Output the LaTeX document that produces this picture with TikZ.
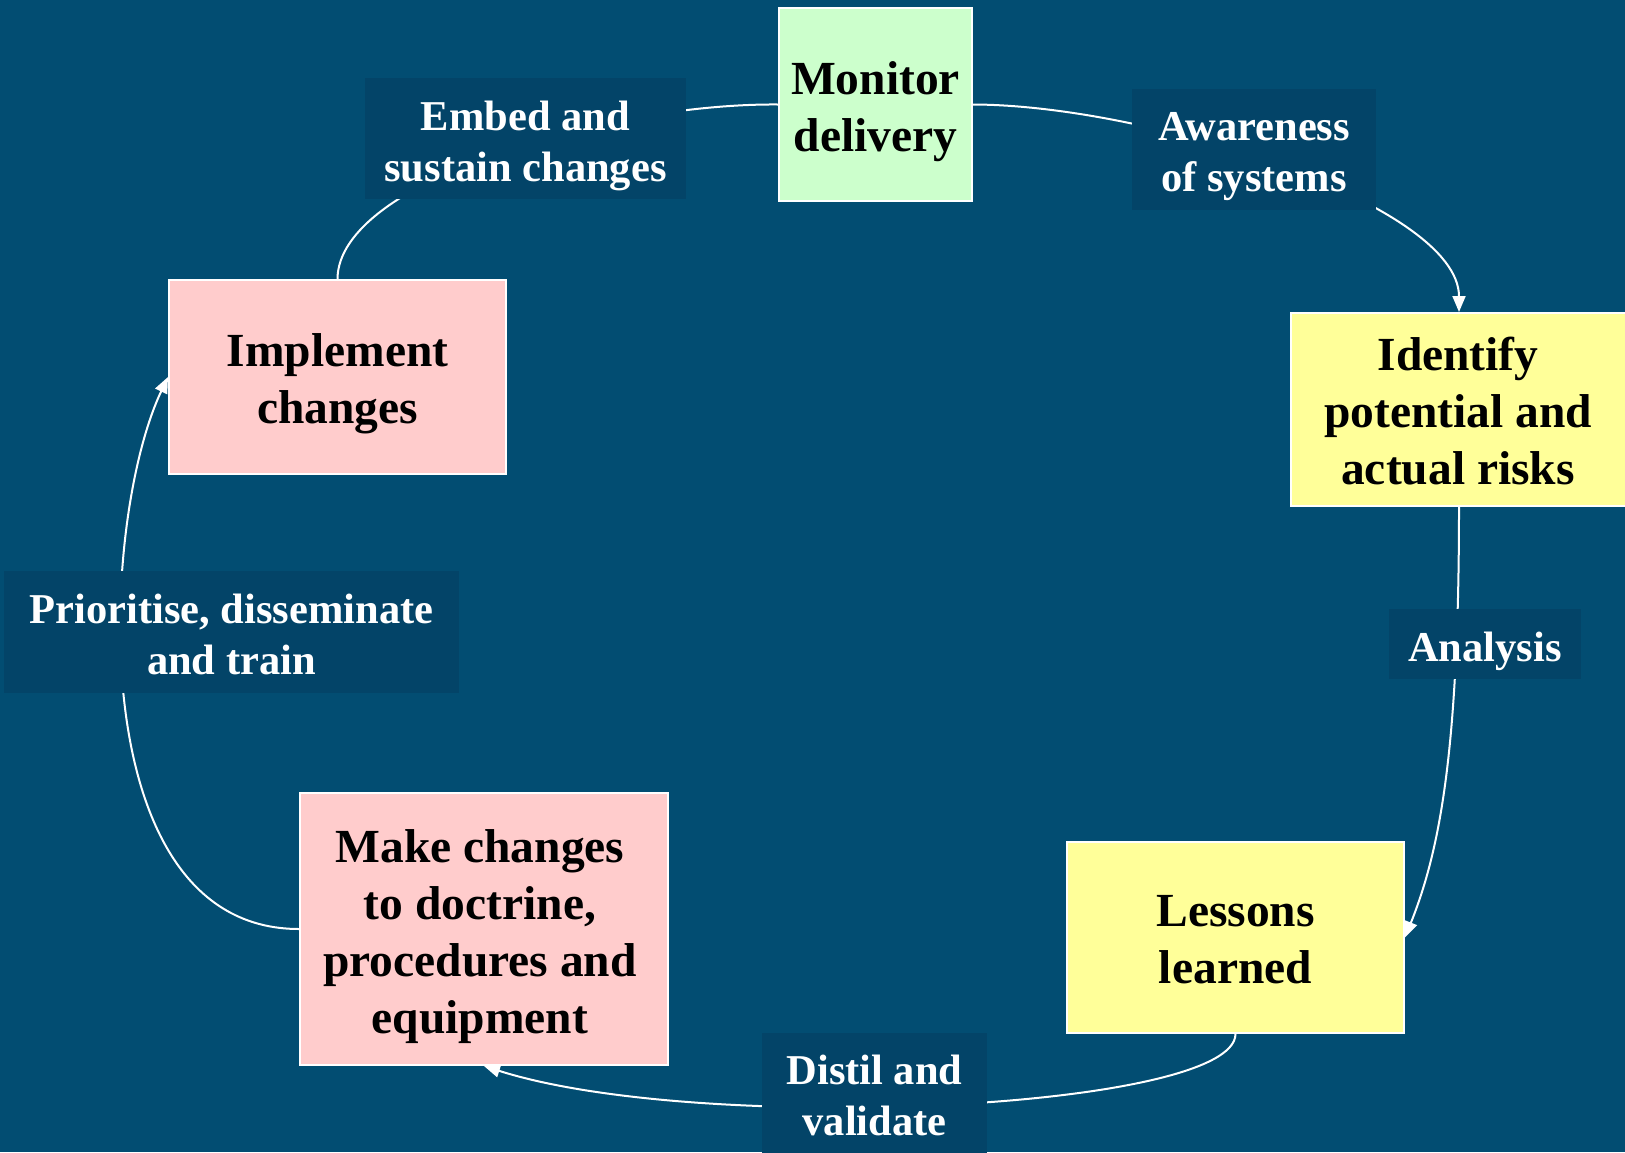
\documentclass[tikz,border=0pt]{standalone}
\usepackage{fontspec}
\setmainfont{Liberation Serif}
\usetikzlibrary{arrows.meta}
\definecolor{bg}{RGB}{2,77,114}
\definecolor{lbl}{RGB}{3,68,104}
\definecolor{boxgreen}{RGB}{204,255,204}
\definecolor{boxyellow}{RGB}{255,255,153}
\definecolor{boxpink}{RGB}{255,204,204}
\begin{document}
\begin{tikzpicture}[x=1pt,y=-1pt,
  stage/.style={draw=white,line width=2pt,inner sep=0pt},
  stagetext/.style={inner sep=0pt,align=center,
    font=\fontsize{47.5}{57}\selectfont\bfseries,text=black},
  lab/.style={fill=lbl,inner sep=0pt},
  labtext/.style={inner sep=0pt,align=center,
    font=\fontsize{42.5}{51}\selectfont\bfseries,text=white},
  conn/.style={draw=white,line width=2pt},
  arr/.style={conn,-{Triangle[length=16pt,width=13pt]}}]
\fill[bg] (0,0) rectangle (1625,1152);
\useasboundingbox (0,0) rectangle (1625,1152);
% stages
\node[stage,fill=boxgreen,minimum width=193pt,minimum height=193pt,
  label={[stagetext,yshift=-7pt]center:{Monitor\\delivery}}] (mon) at (875.5,104.5) {};
\node[stage,fill=boxyellow,minimum width=336pt,minimum height=193pt,
  label={[stagetext,yshift=-1.5pt,xshift=-1pt]center:{Identify\\potential and\\actual risks}}] (ident) at (1459,409.5) {};
\node[stage,fill=boxyellow,minimum width=337pt,minimum height=191pt,
  label={[stagetext,yshift=-2pt]center:{Lessons\\learned}}] (less) at (1235.5,937.5) {};
\node[stage,fill=boxpink,minimum width=368pt,minimum height=272pt,
  label={[stagetext,yshift=-8pt,xshift=-4pt]center:{Make changes\\to doctrine,\\procedures and\\equipment}}] (make) at (484,929) {};
\node[stage,fill=boxpink,minimum width=337pt,minimum height=194pt,
  label={[stagetext,yshift=-7pt]center:{Implement\\changes}}] (impl) at (337.5,377) {};
% connectors
\draw[arr] (mon.east) .. controls (1150,105) and (1459,205) .. (ident.north);
\draw[arr] (ident.south) .. controls (1459,750) and (1440,850) .. (less.east);
\draw[arr] (less.south) .. controls (1235,1110) and (700,1135) .. (make.south);
\draw[arr] (make.west) .. controls (80,929) and (100,520) .. (impl.west);
\draw[conn] (impl.north) .. controls (338,180) and (610,103) .. (mon.west);
% labels
\node[lab,minimum width=321pt,minimum height=121pt,
  label={[labtext,yshift=-7pt]center:{Embed and\\sustain changes}}] (embed) at (525.5,138.5) {};
\node[lab,minimum width=244pt,minimum height=121pt,
  label={[labtext,yshift=-7pt]center:{Awareness\\of systems}}] (aware) at (1254,149.5) {};
\node[lab,minimum width=192pt,minimum height=70pt,
  label={[labtext,yshift=-7pt]center:{Analysis}}] (anal) at (1485,644) {};
\node[lab,minimum width=225pt,minimum height=124pt,
  label={[labtext]center:{Distil and\\validate}}] (distil) at (874.5,1095) {};
\node[lab,minimum width=455pt,minimum height=122pt,
  label={[labtext,yshift=-2pt]center:{Prioritise, disseminate\\and train}}] (prior) at (231.5,632) {};
\end{tikzpicture}
\end{document}
